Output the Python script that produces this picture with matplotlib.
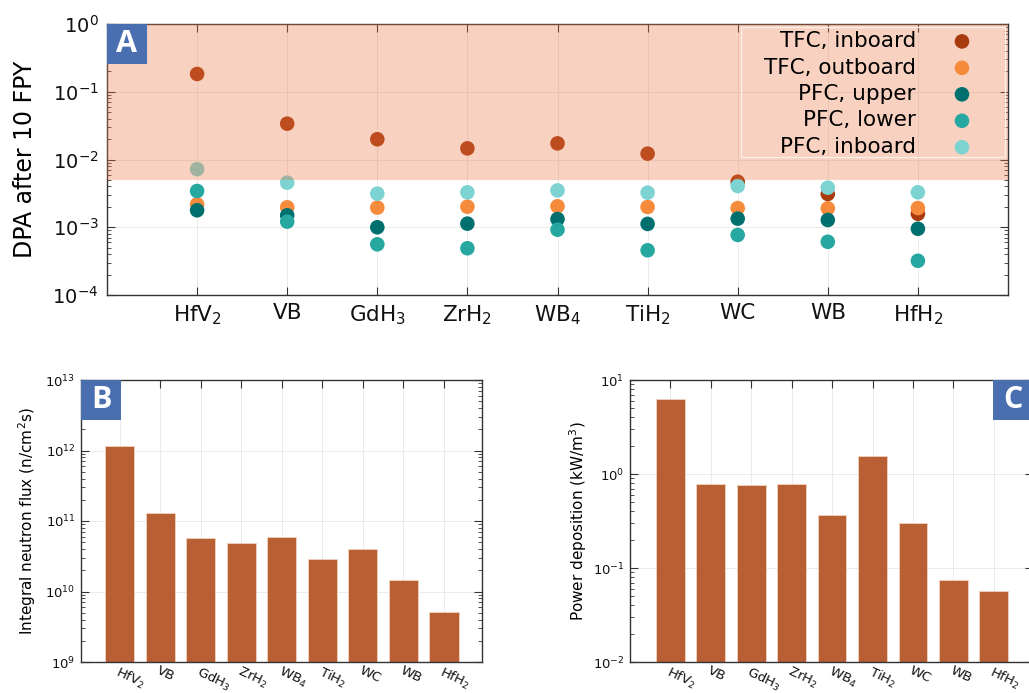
import matplotlib
matplotlib.use('Agg')
import matplotlib.pyplot as plt
from matplotlib.ticker import LogLocator, NullFormatter
from matplotlib.patches import Rectangle

# ---------------- data ----------------
materials = [r'HfV$_2$', 'VB', r'GdH$_3$', r'ZrH$_2$', r'WB$_4$', r'TiH$_2$', 'WC', 'WB', r'HfH$_2$']

tfc_inboard = [0.183, 0.0338, 0.0199, 0.0146, 0.0173, 0.0122, 4.7e-3, 3.1e-3, 1.58e-3]
tfc_outboard = [2.18e-3, 1.97e-3, 1.95e-3, 2.01e-3, 2.04e-3, 1.99e-3, 1.92e-3, 1.90e-3, 1.92e-3]
pfc_upper = [1.78e-3, 1.50e-3, 1.00e-3, 1.13e-3, 1.32e-3, 1.12e-3, 1.34e-3, 1.28e-3, 9.5e-4]
pfc_lower = [3.43e-3, 1.21e-3, 5.6e-4, 4.9e-4, 9.2e-4, 4.57e-4, 7.7e-4, 6.1e-4, 3.2e-4]
pfc_inboard = [7.2e-3, 4.55e-3, 3.13e-3, 3.28e-3, 3.50e-3, 3.24e-3, 4.06e-3, 3.84e-3, 3.28e-3]
series_labels = ['TFC, inboard', 'TFC, outboard', 'PFC, upper', 'PFC, lower', 'PFC, inboard']
series_colors = ['#A83A0E', '#F68B3C', '#00706E', '#26A8A0', '#7DD3D1']
dpa_limit = [5e-3, 1.0]

neutron_flux = [1.14e12, 1.28e11, 5.8e10, 4.8e10, 6.0e10, 2.93e10, 4.07e10, 1.45e10, 5.2e9]
power_dep = [6.24, 0.787, 0.768, 0.787, 0.365, 1.55, 0.30, 0.0746, 0.057]

# ---------------- figure ----------------
W, H = 1029, 693
fig = plt.figure(figsize=(W / 100, H / 100), dpi=100)
plt.rcParams['font.family'] = ['DejaVu Sans']
plt.rcParams['mathtext.fontset'] = 'dejavusans'

def px_axes(l, t, r, b):
    return fig.add_axes([l / W, 1 - b / H, (r - l) / W, (b - t) / H])

spine_col = '#333333'
grid_col = '#ebebeb'
bar_col = '#B85F33'
box_col = '#4A6FB0'

def style(ax, labsize):
    for s in ax.spines.values():
        s.set_color(spine_col)
        s.set_linewidth(1.0)
    ax.tick_params(which='both', direction='in', top=True, right=True, colors=spine_col,
                   labelcolor='#111111', labelsize=labsize)
    ax.tick_params(which='major', length=6)
    ax.tick_params(which='minor', length=3)
    ax.yaxis.set_minor_locator(LogLocator(base=10, subs=range(2, 10), numticks=20))
    ax.yaxis.set_minor_formatter(NullFormatter())
    ax.grid(True, which='major', color=grid_col, lw=0.7)
    ax.set_axisbelow(True)

def label_box(ax, letter, corner, ax_w_px, ax_h_px, size=40):
    w = size / ax_w_px
    h = size / ax_h_px
    x0 = 0 if corner == 'left' else 1 - w
    ax.add_patch(Rectangle((x0, 1 - h), w, h, transform=ax.transAxes, facecolor=box_col,
                           edgecolor='none', clip_on=False, zorder=10))
    ax.text(x0 + w / 2, 1 - h / 2, letter, transform=ax.transAxes, ha='center', va='center',
            color='white', fontsize=22, fontweight='bold', family=['Open Sans', 'DejaVu Sans'],
            zorder=11)

x = list(range(len(materials)))

# ---------------- panel A ----------------
axA = px_axes(107, 24, 1008, 295)
series = [tfc_inboard, tfc_outboard, pfc_upper, pfc_lower, pfc_inboard]
for vals, lab, col in zip(series, series_labels, series_colors):
    axA.scatter(x, vals, s=110, color=col, label=lab, edgecolors='none', zorder=2)
axA.axhspan(dpa_limit[0], dpa_limit[1], color='#EA7440', alpha=0.33, lw=0, zorder=3)
axA.set_yscale('log')
style(axA, 14)
axA.set_ylim(1e-4, 1e0)
axA.set_xlim(-1, 9)
axA.set_xticks(x)
axA.set_xticklabels(materials, fontsize=15.5)
axA.tick_params(axis='x', pad=6)
axA.tick_params(axis='y', pad=6)
axA.set_ylabel('DPA after 10 FPY', fontsize=17, labelpad=11)
leg = axA.legend(loc='upper right', bbox_to_anchor=(0.9728, 0.974), markerfirst=False,
                 fontsize=15.5, frameon=False, borderpad=0.0, labelspacing=0.3,
                 handletextpad=1.14, handlelength=2.0, borderaxespad=0.0, scatterpoints=1)
leg.set_zorder(6)
axA.add_patch(Rectangle((0.7037, 0.509), 0.293, 0.48, transform=axA.transAxes,
                        facecolor='none', edgecolor='#fbefe8', lw=1.0, zorder=4))
label_box(axA, 'A', 'left', 1008 - 107, 295 - 24)

# ---------------- panel B ----------------
axB = px_axes(81, 380, 482, 662)
axB.bar(x, neutron_flux, width=0.72, color=bar_col, edgecolor='#f3d2bf', linewidth=0.6,
        zorder=2)
axB.set_yscale('log')
style(axB, 9.5)
axB.set_ylim(1e9, 1e13)
axB.set_xlim(-0.96, 8.94)
axB.set_xticks(x)
axB.set_xticklabels(materials, rotation=-25, ha='left', va='top', rotation_mode='anchor',
                    fontsize=9.5)
axB.tick_params(axis='x', pad=1.5)
axB.tick_params(axis='y', pad=4)
axB.set_ylabel('Integral neutron flux (n/cm$^2$s)', fontsize=11, labelpad=5)
label_box(axB, 'B', 'left', 482 - 81, 662 - 380)

# ---------------- panel C ----------------
axC = px_axes(630, 380, 1033, 662)
axC.bar(x, power_dep, width=0.71, color=bar_col, edgecolor='#f3d2bf', linewidth=0.6,
        zorder=2)
axC.set_yscale('log')
style(axC, 9.5)
axC.set_ylim(1e-2, 1e1)
axC.set_xlim(-1.0, 8.97)
axC.set_xticks(x)
axC.set_xticklabels(materials, rotation=-25, ha='left', va='top', rotation_mode='anchor',
                    fontsize=9.5)
axC.tick_params(axis='x', pad=1.5)
axC.tick_params(axis='y', pad=4)
axC.set_ylabel('Power deposition (kW/m$^3$)', fontsize=11, labelpad=3)
label_box(axC, 'C', 'right', 1033 - 630, 662 - 380)

fig.savefig('out.png', dpi=100)
